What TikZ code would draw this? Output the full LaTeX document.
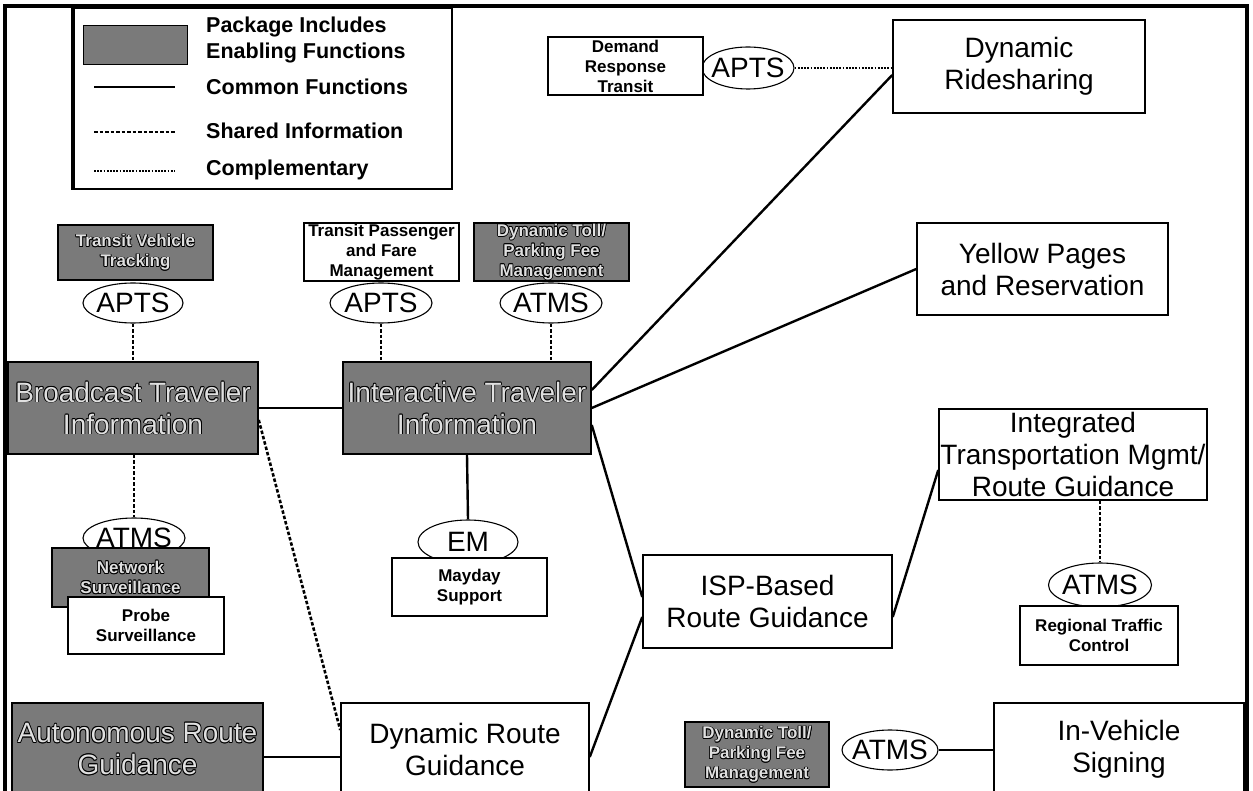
\documentclass[tikz,border=0pt]{standalone}
\usepackage{fontspec}
\setmainfont{Liberation Sans}
\usetikzlibrary{shapes.geometric,calc}

% light lettering with a dark rim, for the shaded packages
\newcommand\olt[1]{\leavevmode
  \rlap{\textcolor{black}{\hspace*{0.8pt}#1}}%
  \rlap{\textcolor{black}{\hspace*{-0.8pt}#1}}%
  \rlap{\textcolor{black}{\raisebox{0.8pt}{#1}}}%
  \rlap{\textcolor{black}{\raisebox{-0.8pt}{#1}}}%
  \rlap{\textcolor{black}{\hspace*{0.6pt}\raisebox{0.6pt}{#1}}}%
  \rlap{\textcolor{black}{\hspace*{-0.6pt}\raisebox{0.6pt}{#1}}}%
  \rlap{\textcolor{black}{\hspace*{0.6pt}\raisebox{-0.6pt}{#1}}}%
  \rlap{\textcolor{black}{\hspace*{-0.6pt}\raisebox{-0.6pt}{#1}}}%
  #1}

\tikzset{
  box/.style={draw, line width=1.5pt, fill=white, align=center, inner sep=0pt},
  bigbox/.style={box, font=\fontsize{28}{32}\selectfont},
  smallbox/.style={box, font=\fontsize{17}{20}\selectfont\bfseries},
  shade/.style={fill=black!52, text=white!88!black},
  tag/.style={ellipse, draw, line width=1.1pt, fill=white, inner sep=0pt,
              font=\fontsize{28}{32}\selectfont},
  legtext/.style={anchor=west, inner sep=0pt, font=\fontsize{21.5}{24}\selectfont\bfseries},
  common/.style={line width=2.4pt},
  shared/.style={line width=2.6pt, dash pattern=on 3.5pt off 2pt},
  compl/.style={line width=2pt, dash pattern=on 1.8pt off 1.4pt},
}

\begin{document}
\begin{tikzpicture}[x=1pt,y=-1pt]
\useasboundingbox (0,0) rectangle (1253,791);
\fill[white] (0,0) rectangle (1253,791);

% outer frame
\draw[line width=3.2pt] (5,800) -- (5,6) -- (1247,6) -- (1247,800);

% legend
\draw[line width=2pt, fill=white] (72,8) rectangle (452,189);
\draw[line width=4pt] (73,8) -- (73,189);
\node[draw, shade, line width=1pt, minimum width=104pt, minimum height=39pt] (sw) at (135,45.5) {};
\node[legtext] (lg1) at (206,27) {Package Includes};
\node[legtext] (lg2) at (206,53) {Enabling Functions};
\node[legtext] (lg3) at (206,87) {Common Functions};
\node[legtext] (lg4) at (206,131) {Shared Information};
\node[legtext] (lg5) at (206,170) {Complementary};
\coordinate (la1) at (94,87);  \coordinate (lb1) at (175,87);
\coordinate (la2) at (94,132); \coordinate (lb2) at (175,132);
\coordinate (la3) at (94,171); \coordinate (lb3) at (175,171);
\draw[common] (la1) -- (lb1);
\draw[shared] (la2) -- (lb2);
\draw[compl] (la3) -- (lb3);

% tags (drawn first so the boxes sit over them)
\node[tag, minimum width=100pt, minimum height=40pt] (apts1) at (133,303) {\makebox[0pt]{APTS}};
\node[tag, minimum width=102pt, minimum height=40pt] (apts2) at (381,303) {\makebox[0pt]{APTS}};
\node[tag, minimum width=102pt, minimum height=40pt] (atms1) at (551,303) {\makebox[0pt]{ATMS}};
\node[tag, minimum width=102pt, minimum height=40pt] (atms2) at (134,538) {\makebox[0pt]{ATMS}};
\node[tag, minimum width=100pt, minimum height=44pt] (em) at (468,542) {\makebox[0pt]{EM}};
\node[tag, minimum width=103pt, minimum height=44pt] (atms3) at (1100,585) {\makebox[0pt]{ATMS}};
\node[tag, minimum width=96pt, minimum height=40pt] (atms4) at (890,750) {\makebox[0pt]{ATMS}};
\node[tag, minimum width=92pt, minimum height=42pt] (aptsd) at (748,68) {\makebox[0pt]{APTS}};

% small packages
\node[smallbox, shade, minimum width=155pt, minimum height=55pt] (tvt) at (135.5,252.5)
  {\olt{Transit Vehicle}\\\olt{Tracking}};
\node[smallbox, minimum width=155pt, minimum height=58pt] (tpf) at (381.5,252)
  {Transit Passenger\\and Fare\\Management};
\node[smallbox, shade, minimum width=155pt, minimum height=58pt] (dtp1) at (551.5,252)
  {\olt{Dynamic Toll/}\\\olt{Parking Fee}\\\olt{Management}};
\node[smallbox, shade, minimum width=157pt, minimum height=59pt] (nsv) at (130.5,577.5)
  {\olt{Network}\\\olt{Surveillance}};
\node[smallbox, minimum width=156pt, minimum height=57pt] (psv) at (146,625.5)
  {Probe\\Surveillance};
\node[smallbox, minimum width=155pt, minimum height=58pt] (mds) at (469.5,587)
  {Mayday\\Support};
\node[smallbox, minimum width=158pt, minimum height=59pt] (rtc) at (1099,635.5)
  {Regional Traffic\\Control};
\node[smallbox, shade, minimum width=144pt, minimum height=65pt] (dtp2) at (757,754.5)
  {\olt{Dynamic Toll/}\\\olt{Parking Fee}\\\olt{Management}};
\node[smallbox, minimum width=155pt, minimum height=58pt] (drt) at (625.5,66)
  {Demand\\Response\\Transit};

% market packages
\node[bigbox, shade, minimum width=250pt, minimum height=92pt] (bti) at (133,408)
  {\olt{Broadcast Traveler}\\\olt{Information}};
\node[bigbox, shade, minimum width=248pt, minimum height=92pt] (iti) at (467,408)
  {\olt{Interactive Traveler}\\\olt{Information}};
\node[bigbox, shade, minimum width=251pt, minimum height=92pt] (arg) at (137.5,749)
  {\olt{Autonomous Route}\\\olt{Guidance}};
\node[bigbox, minimum width=248pt, minimum height=92pt] (drg) at (465,749)
  {Dynamic Route\\Guidance};
\node[bigbox, minimum width=249pt, minimum height=93pt] (isp) at (767.5,601.5)
  {ISP-Based\\Route Guidance};
\node[bigbox, minimum width=268pt, minimum height=91pt] (itm) at (1073,454.5)
  {Integrated\\Transportation Mgmt/\\Route Guidance};
\node[bigbox, minimum width=250pt, minimum height=92pt] (ivs) at (1119,749)
  {In-Vehicle\\Signing};
\node[bigbox, minimum width=251pt, minimum height=92pt] (yp) at (1042.5,269)
  {Yellow Pages\\and Reservation};
\node[bigbox, minimum width=252pt, minimum height=93pt] (drs) at (1019,66.5)
  {Dynamic\\Ridesharing};

% common functions
\draw[common] (bti.east) -- (iti.west);
\draw[common] ([yshift=18pt]iti.east) -- ([yshift=-8.5pt]drs.west);
\draw[common] (iti.east) -- (yp.west);
\draw[common] ([yshift=-17pt]iti.east) -- ([yshift=4.5pt]isp.west);
\draw[common] ([yshift=-8pt]drg.east) -- ([yshift=-15.5pt]isp.west);
\draw[common] ([yshift=-15.5pt]isp.east) -- ([yshift=-15.5pt]itm.west);
\draw[common] ([yshift=-8pt]arg.east) -- ([yshift=-8pt]drg.west);
\draw[common] (iti.south) -- (em.north);
\draw[common] (atms4.east) -- (atms4.east -| ivs.west);

% shared information
\draw[shared] (apts1.south) -- (apts1.south |- bti.north);
\draw[shared] (apts2.south) -- (apts2.south |- iti.north);
\draw[shared] (atms1.south) -- (atms1.south |- iti.north);
\draw[shared] (atms2.north |- bti.south) -- (atms2.north);
\draw[shared] (atms3.north |- itm.south) -- (atms3.north);
\draw[shared] ([yshift=-12pt]bti.east) -- ([yshift=19pt]drg.west);

% complementary
\draw[compl] (aptsd.east) -- (aptsd.east -| drs.west);
\end{tikzpicture}
\end{document}
